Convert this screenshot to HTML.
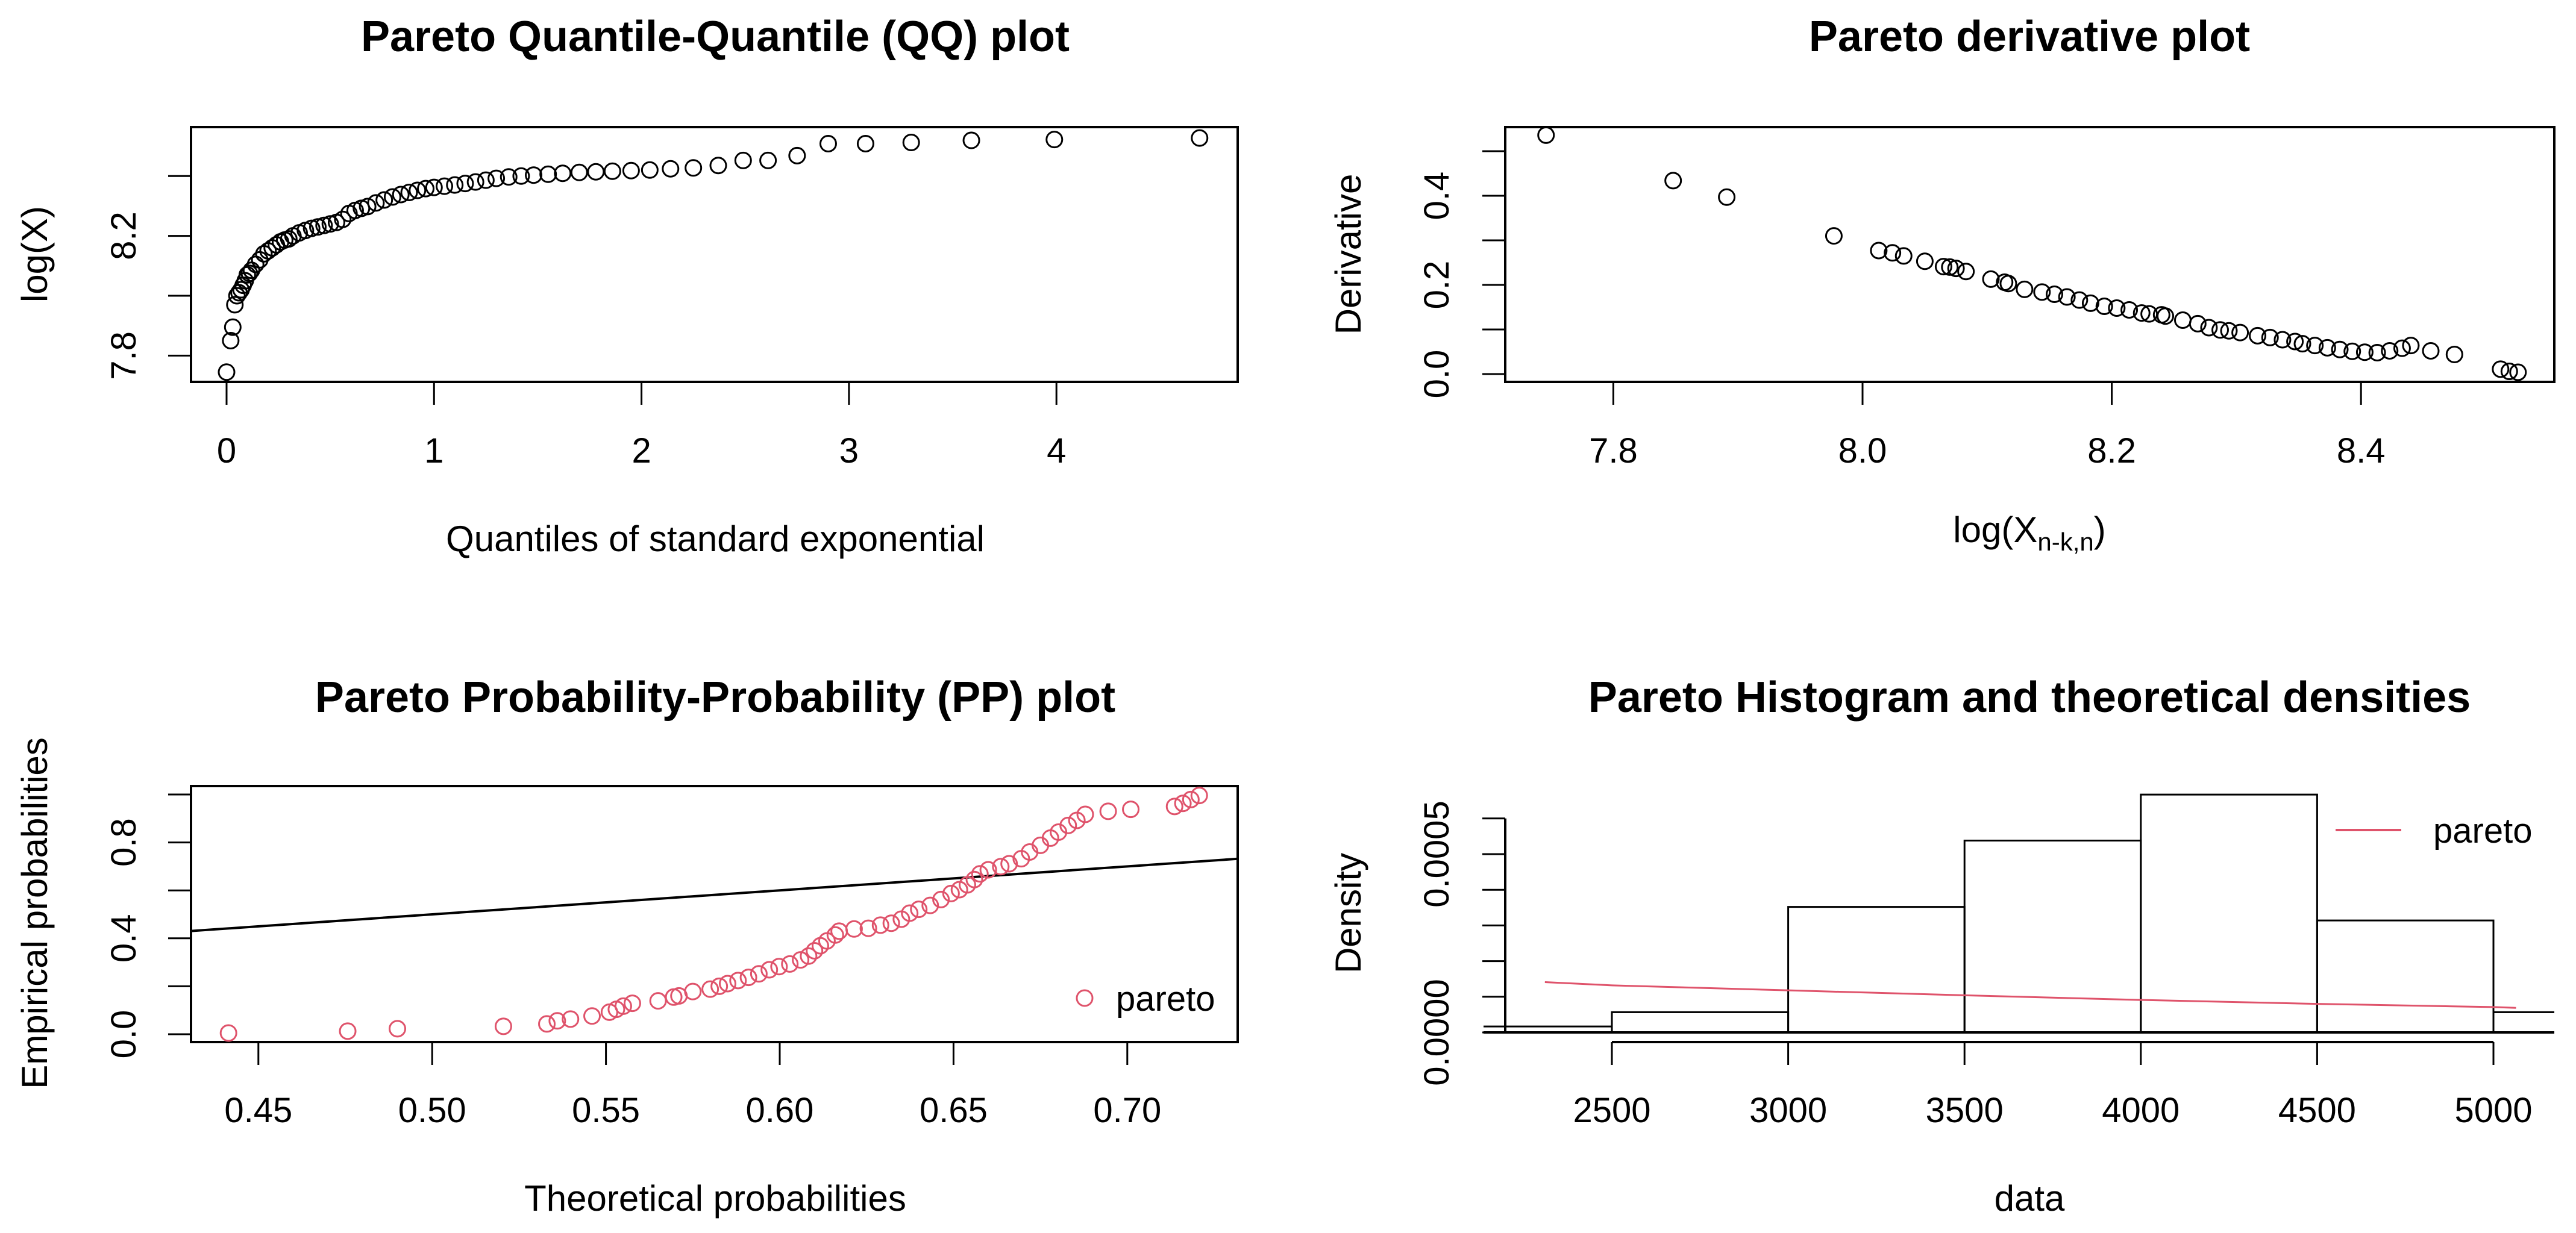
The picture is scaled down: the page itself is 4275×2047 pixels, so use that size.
<!DOCTYPE html>
<html><head><meta charset="utf-8"><style>
html,body{margin:0;padding:0;background:#fff;}
svg{display:block;font-family:"Liberation Sans",Arial,sans-serif;}
</style></head><body>
<svg id="c" width="4275" height="2047" viewBox="0 0 4275 2047" xmlns="http://www.w3.org/2000/svg">
<defs>
<clipPath id="ppclip"><rect x="317" y="1305" width="1737" height="425"/></clipPath>
<clipPath id="hclip"><rect x="2462" y="1200" width="1777" height="530"/></clipPath>
</defs>
<g id="qq"></g>
<g id="dv"></g>
<g id="pp"></g>
<g id="hs"></g>
</svg>
<script>
// QQ data
const qqX=[0.00,0.02,0.03,0.04,0.05,0.06,0.07,0.08,0.09,0.10,0.11,0.12,0.14,0.16,0.18,0.20,0.22,0.24,0.26,0.28,0.30,0.32,0.35,0.38,0.41,0.44,0.47,0.50,0.53,0.56,0.59,0.62,0.65,0.68,0.72,0.76,0.80,0.84,0.88,0.92,0.96,1.00,1.05,1.10,1.15,1.20,1.25,1.30,1.36,1.42,1.48,1.55,1.62,1.70,1.78,1.86,1.95,2.04,2.14,2.25,2.37,2.49,2.61,2.75,2.90,3.08,3.30,3.59,3.99,4.69];
const qqY=[7.745,7.85,7.895,7.97,8.00,8.01,8.02,8.035,8.05,8.07,8.075,8.085,8.105,8.12,8.14,8.15,8.16,8.17,8.18,8.186,8.19,8.20,8.21,8.218,8.225,8.23,8.235,8.24,8.245,8.255,8.275,8.285,8.292,8.298,8.31,8.32,8.33,8.338,8.345,8.352,8.358,8.362,8.366,8.37,8.375,8.38,8.386,8.392,8.397,8.40,8.403,8.406,8.409,8.412,8.414,8.416,8.418,8.42,8.424,8.427,8.435,8.452,8.452,8.468,8.508,8.508,8.512,8.519,8.522,8.527];
const qqXTicks=[0,1,2,3,4];
const qqYTicks=[7.8,8.0,8.2,8.4];
const qqYLabels=["7.8","","8.2",""];
// Derivative data
const dvX=[7.746,7.848,7.891,7.977,8.013,8.024,8.033,8.05,8.065,8.07,8.075,8.083,8.103,8.114,8.117,8.13,8.144,8.154,8.164,8.174,8.183,8.194,8.204,8.214,8.224,8.23,8.24,8.243,8.257,8.269,8.278,8.287,8.294,8.303,8.317,8.327,8.337,8.347,8.353,8.363,8.373,8.383,8.393,8.403,8.413,8.423,8.433,8.44,8.456,8.475,8.512,8.519,8.526];
const dvY=[0.536,0.434,0.397,0.310,0.277,0.272,0.265,0.253,0.241,0.240,0.237,0.230,0.213,0.206,0.203,0.190,0.184,0.179,0.173,0.166,0.159,0.152,0.148,0.144,0.137,0.135,0.133,0.130,0.121,0.113,0.104,0.099,0.097,0.093,0.086,0.082,0.077,0.073,0.068,0.064,0.059,0.055,0.051,0.049,0.048,0.052,0.058,0.064,0.052,0.044,0.011,0.006,0.004];
const dvXTicks=[7.8,8.0,8.2,8.4];
const dvXLabels=["7.8","8.0","8.2","8.4"];
const dvYTicks=[0,0.1,0.2,0.3,0.4,0.5];
const dvYLabels=["0.0","","0.2","","0.4",""];
// PP data
const ppX=[0.4414,0.4757,0.49,0.5205,0.533,0.536,0.5398,0.546,0.551,0.553,0.555,0.5576,0.565,0.5695,0.571,0.575,0.580,0.5826,0.585,0.588,0.591,0.594,0.597,0.5998,0.6029,0.606,0.6083,0.61,0.6117,0.6136,0.616,0.6171,0.6214,0.6255,0.629,0.6321,0.635,0.6374,0.64,0.6433,0.6464,0.6493,0.6517,0.654,0.656,0.6576,0.66,0.6636,0.666,0.6695,0.6719,0.675,0.6779,0.6802,0.683,0.6855,0.6879,0.6945,0.701,0.7136,0.716,0.7183,0.7207];
const ppY=[0.005,0.013,0.023,0.033,0.043,0.056,0.063,0.076,0.092,0.104,0.117,0.129,0.139,0.155,0.160,0.178,0.188,0.200,0.211,0.224,0.237,0.252,0.269,0.282,0.293,0.310,0.326,0.348,0.369,0.389,0.414,0.430,0.439,0.442,0.455,0.463,0.480,0.505,0.521,0.5375,0.562,0.587,0.603,0.623,0.645,0.669,0.686,0.699,0.711,0.732,0.760,0.788,0.818,0.843,0.871,0.892,0.917,0.930,0.938,0.950,0.963,0.979,0.996];
const ppXTicks=[0.45,0.50,0.55,0.60,0.65,0.70];
const ppXLabels=["0.45","0.50","0.55","0.60","0.65","0.70"];
const ppYTicks=[0,0.2,0.4,0.6,0.8,1.0];
const ppYLabels=["0.0","","0.4","","0.8",""];
// Histogram data
const hBreaks=[2000,2500,3000,3500,4000,4500,5000,5500];
const hDens=[0.0000167,0.0000567,0.000352,0.000538,0.000667,0.000314,0.0000567];
const hXTicks=[2500,3000,3500,4000,4500,5000];
const hXLabels=["2500","3000","3500","4000","4500","5000"];
const hYTicks=[0,0.0001,0.0002,0.0003,0.0004,0.0005,0.0006];
const hYLabels=["0.0000","","","","","0.0005",""];
const parX=[2310,2500,3000,3500,4000,4500,5000,5064];
const parY=[0.000141,0.000132,0.000118,0.000104,0.0000911,0.00008,0.0000711,0.0000689];

const NS="http://www.w3.org/2000/svg";
function mk(par,tag,at,txt){const e=document.createElementNS(NS,tag);for(const k in at)e.setAttribute(k,at[k]);if(txt!==undefined)e.textContent=txt;par.appendChild(e);return e;}
const RED="#DF536B";
const TF=58, AF=60, HF=72;

function panel(g,o){
  let t=mk(g,'text',{x:o.tx,y:o.ty,'text-anchor':'middle','font-size':HF,'font-weight':'bold'},o.title);
  
  
  o.xt.forEach((v,i)=>{const px=o.sx(v);
    let l=mk(g,'line',{x1:px,x2:px,y1:o.xaxY,y2:o.xaxY+38,stroke:'#000','stroke-width':3});
    
    
    if(o.xl[i]){let tx=mk(g,'text',{x:px,y:o.xlY,'text-anchor':'middle','font-size':TF},o.xl[i]);
    
    }
  });
  o.yt.forEach((v,i)=>{const py=o.sy(v);
    let l=mk(g,'line',{x1:o.yaxX-38,x2:o.yaxX,y1:py,y2:py,stroke:'#000','stroke-width':3});
    
    
    if(o.yl[i]){let tx=mk(g,'text',{x:o.ylX,y:py,'text-anchor':'middle','font-size':TF,transform:`rotate(-90 ${o.ylX} ${py})`},o.yl[i]);
    
    }
  });
  let yt=mk(g,'text',{x:o.ytX,y:o.ytY,'text-anchor':'middle','font-size':AF,transform:`rotate(-90 ${o.ytX} ${o.ytY})`},o.ytitle);
  
  
  let xt=mk(g,'text',{x:o.tx,y:o.xtY,'text-anchor':'middle','font-size':AF},o.xtitle||'');
  
  
  return xt;
}
function box(g,x1,y1,x2,y2){let r=mk(g,'rect',{x:x1,y:y1,width:x2-x1,height:y2-y1,fill:'none',stroke:'#000','stroke-width':4});
  
  }

// ---- QQ
{const g=document.getElementById('qq');
 const sx=v=>376+v*344.3, sy=v=>491-(v-8.0)*497;
 box(g,317,211,2054,634);
 panel(g,{tx:1187,ty:85,title:'Pareto Quantile-Quantile (QQ) plot',sx,sy,xt:qqXTicks,xl:qqXTicks.map(String),xaxY:634,xlY:768,yt:qqYTicks,yl:qqYLabels,yaxX:317,ylX:225,ytX:78,ytY:422,ytitle:'log(X)',xtY:915,xtitle:'Quantiles of standard exponential'});
 qqX.forEach((v,i)=>{let c=mk(g,'circle',{cx:sx(v),cy:sy(qqY[i]),r:13,fill:'none',stroke:'#000','stroke-width':3});
  
  });
}
// ---- Derivative
{const g=document.getElementById('dv');
 const sx=v=>3091+(v-8)*2068, sy=v=>621-v*740;
 box(g,2498,211,4239,634);
 const xt=panel(g,{tx:3368,ty:85,title:'Pareto derivative plot',sx,sy,xt:dvXTicks,xl:dvXLabels,xaxY:634,xlY:768,yt:dvYTicks,yl:dvYLabels,yaxX:2498,ylX:2404,ytX:2258,ytY:422,ytitle:'Derivative',xtY:900,xtitle:''});
 xt.textContent='';
 mk(xt,'tspan',{},'log(X');
 mk(xt,'tspan',{'font-size':42,dy:14},'n-k,n');
 mk(xt,'tspan',{dy:-14},')');
 dvX.forEach((v,i)=>{let c=mk(g,'circle',{cx:sx(v),cy:sy(dvY[i]),r:13,fill:'none',stroke:'#000','stroke-width':3});
  
  });
}
// ---- PP
{const g=document.getElementById('pp');
 const sx=v=>1294+(v-0.6)*5768, sy=v=>1717-v*398;
 box(g,317,1305,2054,1730);
 panel(g,{tx:1187,ty:1182,title:'Pareto Probability-Probability (PP) plot',sx,sy,xt:ppXTicks,xl:ppXLabels,xaxY:1730,xlY:1863,yt:ppYTicks,yl:ppYLabels,yaxX:317,ylX:225,ytX:78,ytY:1516,ytitle:'Empirical probabilities',xtY:2010,xtitle:'Theoretical probabilities'});
 let ln=mk(g,'line',{x1:sx(0.4),y1:sy(0.4),x2:sx(0.75),y2:sy(0.75),stroke:'#000','stroke-width':4,'clip-path':'url(#ppclip)'});
 
 
 ppX.forEach((v,i)=>{let c=mk(g,'circle',{cx:sx(v),cy:sy(ppY[i]),r:13,fill:'none',stroke:RED,'stroke-width':3});
  
  });
 let lc=mk(g,'circle',{cx:1800,cy:1657,r:13,fill:'none',stroke:RED,'stroke-width':3});
 
 
 let lt=mk(g,'text',{x:1852,y:1678,'font-size':TF},'pareto');
 
 
}
// ---- Histogram
{const g=document.getElementById('hs');
 const sx=v=>2675+(v-2500)*0.5852, sy=v=>1714-v*592000;
 panel(g,{tx:3368,ty:1182,title:'Pareto Histogram and theoretical densities',sx,sy,xt:hXTicks,xl:hXLabels,xaxY:1730,xlY:1863,yt:hYTicks,yl:hYLabels,yaxX:2498,ylX:2404,ytX:2258,ytY:1516,ytitle:'Density',xtY:2010,xtitle:'data'});
 let xa=mk(g,'line',{x1:sx(2500),x2:sx(5000),y1:1730,y2:1730,stroke:'#000','stroke-width':4});
 
 
 let ya=mk(g,'line',{x1:2498,x2:2498,y1:sy(0),y2:sy(0.0006),stroke:'#000','stroke-width':4});
 
 
 const bg=mk(g,'g',{'clip-path':'url(#hclip)'});
 hDens.forEach((d,i)=>{const x1=sx(hBreaks[i]),x2=sx(hBreaks[i+1]);
  let r=mk(bg,'rect',{x:x1,y:sy(d),width:x2-x1,height:sy(0)-sy(d),fill:'none',stroke:'#000','stroke-width':3});
  
  });
 let h0=mk(g,'line',{x1:2462,x2:4239,y1:sy(0),y2:sy(0),stroke:'#000','stroke-width':4});
 
 
 let pl=mk(g,'polyline',{points:parX.map((v,i)=>sx(v)+','+sy(parY[i])).join(' '),fill:'none',stroke:RED,'stroke-width':3});
 
 
 let ll=mk(g,'line',{x1:3876,x2:3985,y1:1378,y2:1378,stroke:RED,'stroke-width':4});
 
 
 let lt=mk(g,'text',{x:4038,y:1399,'font-size':TF},'pareto');
 
 
}
</script>
</body></html>
